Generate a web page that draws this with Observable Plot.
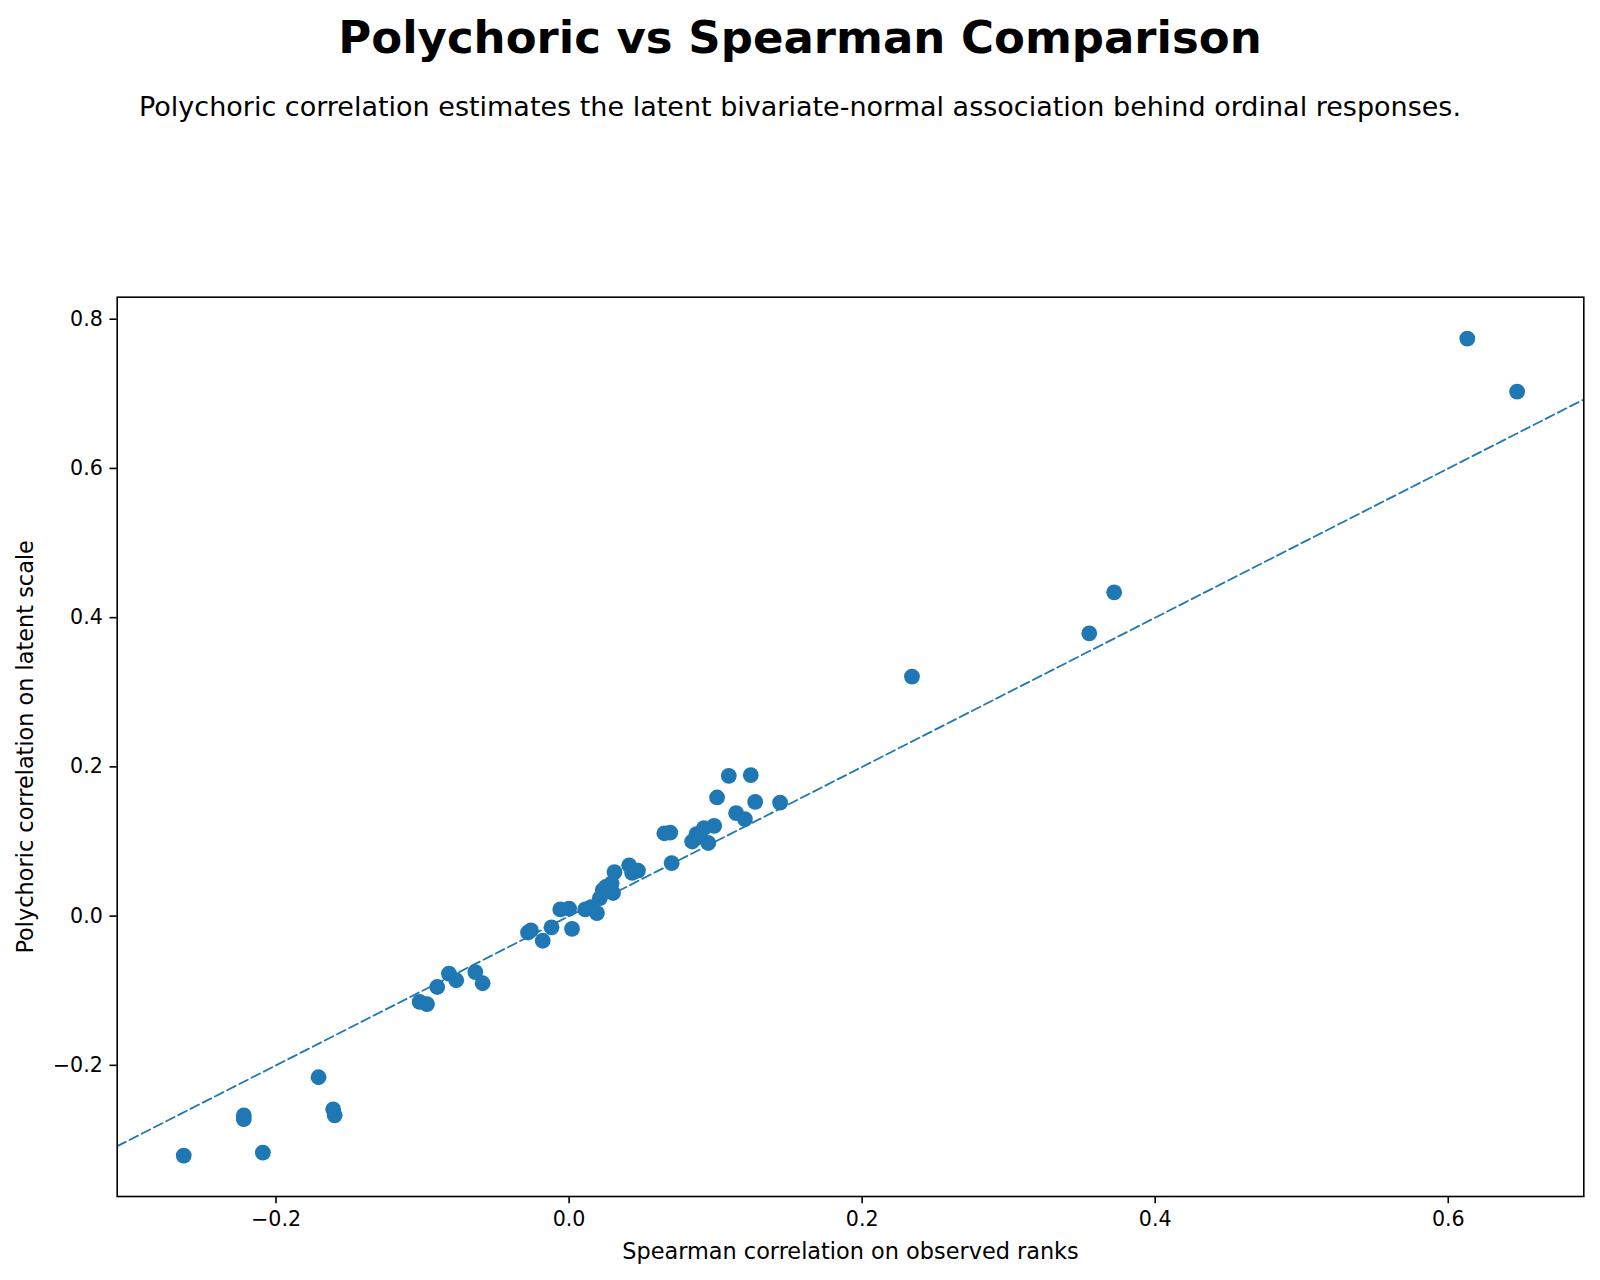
<!DOCTYPE html>
<html>
<head>
<meta charset="utf-8">
<script src="https://cdn.jsdelivr.net/npm/d3@7"></script>
<script src="https://cdn.jsdelivr.net/npm/@observablehq/plot@0.6"></script>
<style>
  html, body { margin: 0; padding: 0; background: #fff; }
  body { width: 1600px; height: 1280px; position: relative; overflow: hidden;
         font-family: "DejaVu Sans", sans-serif; color: #000; }
  .title { position: absolute; left: 0; width: 1600px; text-align: center;
           top: 14.5px; font-size: 45px; line-height: 1; font-weight: bold; }
  .subtitle { position: absolute; left: 0; width: 1600px; text-align: center;
              top: 92.5px; font-size: 27px; line-height: 1; }
  #chart { position: absolute; left: 0; top: 140px; }
</style>
</head>
<body>
<div class="title">Polychoric vs Spearman Comparison</div>
<div class="subtitle">Polychoric correlation estimates the latent bivariate-normal association behind ordinal responses.</div>
<div id="chart"></div>
<script>
// Spearman (observed ranks) and polychoric (latent scale) correlations, one pair per item pair
const spearman = [
  -0.263, -0.222, -0.222, -0.209, -0.171, -0.161, -0.160,
  -0.102, -0.097, -0.090, -0.082, -0.077, -0.064, -0.059,
  -0.028, -0.026, -0.018, -0.012, -0.006, 0.000, 0.002,
  0.011, 0.015, 0.019, 0.021, 0.023, 0.025, 0.029, 0.030,
  0.031, 0.041, 0.043, 0.047,
  0.065, 0.069, 0.070, 0.084, 0.087, 0.089, 0.092, 0.095,
  0.099, 0.101, 0.109, 0.114, 0.120, 0.124, 0.127, 0.144,
  0.234, 0.355, 0.372, 0.613, 0.647
];
const polychoric = [
  -0.321, -0.267, -0.272, -0.317, -0.216, -0.259, -0.267,
  -0.115, -0.118, -0.095, -0.077, -0.086, -0.075, -0.090,
  -0.022, -0.019, -0.033, -0.015, 0.009, 0.010, -0.017,
  0.009, 0.012, 0.004, 0.024, 0.035, 0.039, 0.044, 0.031,
  0.059, 0.068, 0.058, 0.061,
  0.111, 0.112, 0.071, 0.100, 0.110, 0.106, 0.118, 0.098,
  0.121, 0.159, 0.188, 0.138, 0.130, 0.189, 0.153, 0.152,
  0.321, 0.379, 0.434, 0.774, 0.703
];

// Reference line y = x, clipped to the frame
const identity = [-0.4, 0.8];

const xTicks = [-0.2, 0.0, 0.2, 0.4, 0.6];
const yTicks = [-0.2, 0.0, 0.2, 0.4, 0.6, 0.8];
const xDomain = [-0.3084, 0.6925];
const yDomain = [-0.3758, 0.8295];

const xLabel = "Spearman correlation on observed ranks";
const yLabel = "Polychoric correlation on latent scale";

const points = spearman.map((s, i) => ({spearman: s, polychoric: polychoric[i]}));
const blue = "#1f77b4";
const fmt = d3.format(".1f");

const chart = Plot.plot({
  width: 1600,
  height: 1140,
  marginTop: 156.7,
  marginBottom: 84,
  marginLeft: 116.7,
  marginRight: 16.7,
  style: {fontFamily: "DejaVu Sans, sans-serif", color: "#000", background: "#fff", overflow: "visible"},
  x: {domain: xDomain},
  y: {domain: yDomain},
  marks: [
    Plot.dot(points, {x: "spearman", y: "polychoric", r: 7.9, fill: blue, stroke: "none"}),
    Plot.line(identity, {x: d => d, y: d => d, stroke: blue, strokeWidth: 1.8,
                         strokeDasharray: "9.5,4.2", clip: true}),
    Plot.frame({stroke: "#000", strokeWidth: 1.6}),
    Plot.axisX({ticks: xTicks, tickFormat: fmt, tickSize: 7.2, tickPadding: 7.2,
                fontSize: 20.6, label: null, strokeWidth: 1.6}),
    Plot.axisY({ticks: yTicks, tickFormat: fmt, tickSize: 7.2, tickPadding: 7.2,
                fontSize: 20.6, label: null, strokeWidth: 1.6}),
    Plot.text([xLabel], {text: d => d, frameAnchor: "bottom", dy: 55,
                         textAnchor: "middle", lineAnchor: "middle", fontSize: 22.4}),
    Plot.text([yLabel], {text: d => d, frameAnchor: "left", dx: -91.2, rotate: -90,
                         textAnchor: "middle", lineAnchor: "middle", fontSize: 22.4})
  ]
});

document.getElementById("chart").appendChild(chart);
</script>
</body>
</html>
